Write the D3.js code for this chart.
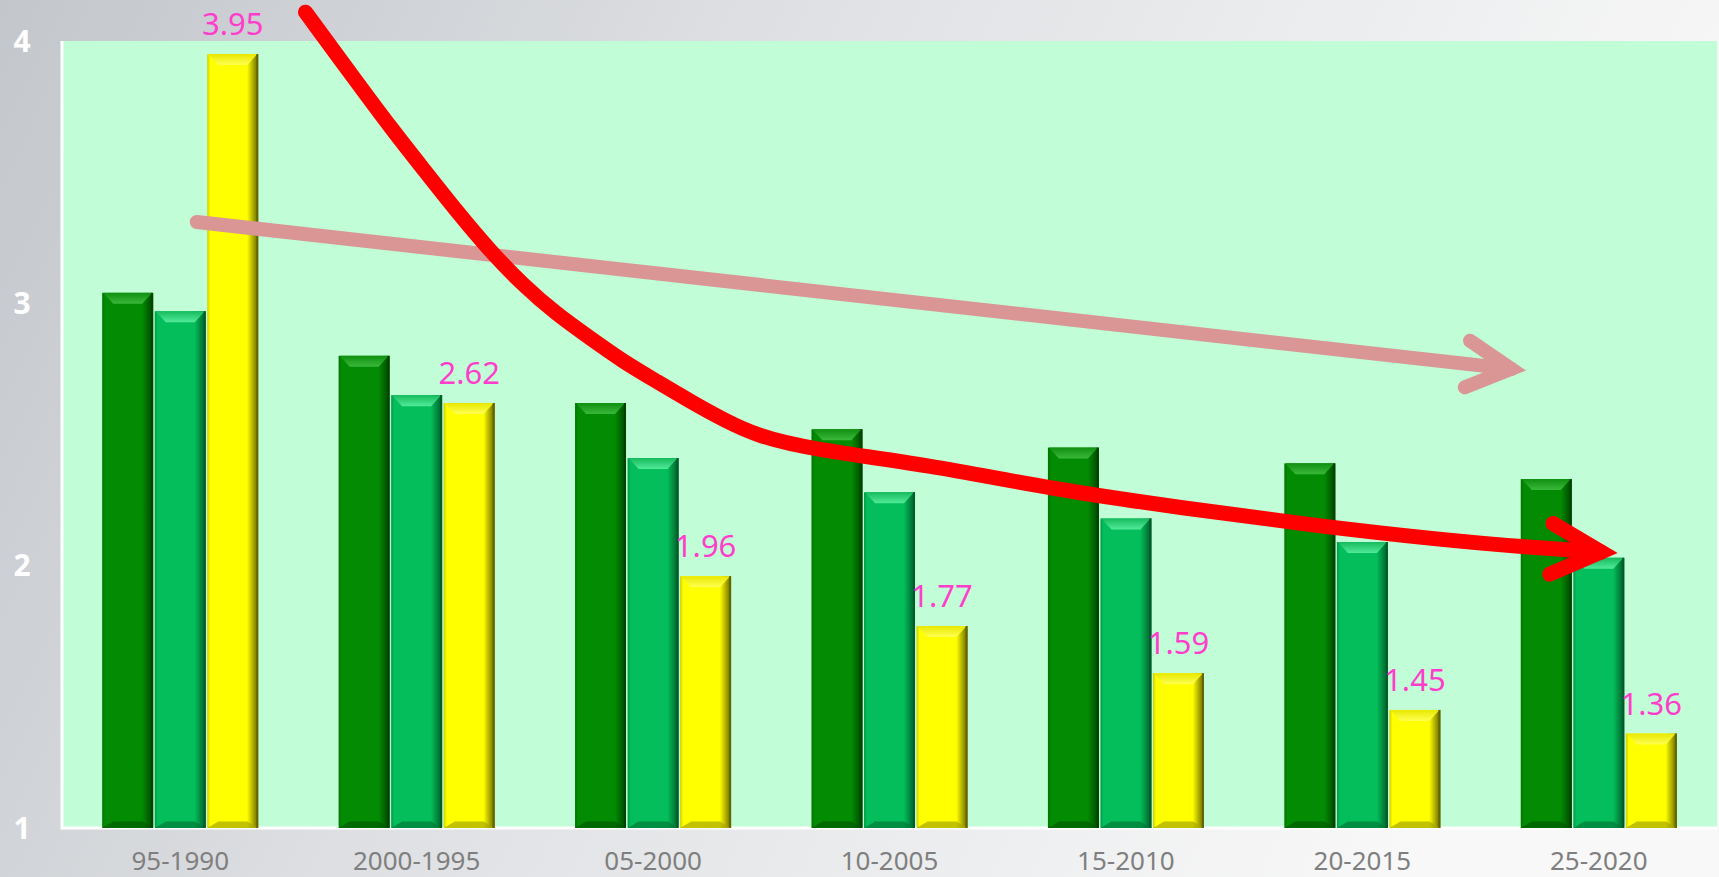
<!DOCTYPE html>
<html><head><meta charset="utf-8">
<script src="https://cdn.jsdelivr.net/npm/d3@7"></script>
<style>html,body{margin:0;padding:0;background:#fff;}svg{display:block;}</style>
</head><body>
<svg id="c" width="1719" height="877"></svg>
<script>
// ---- data ----
const categories = ["95-1990","2000-1995","05-2000","10-2005","15-2010","20-2015","25-2020"];
const seriesDark   = [3.04, 2.80, 2.62, 2.52, 2.45, 2.39, 2.33];
const seriesMid    = [2.97, 2.65, 2.41, 2.28, 2.18, 2.09, 2.03];
const seriesYellow = [3.95, 2.62, 1.96, 1.77, 1.59, 1.45, 1.36];
const yTicks = [1, 2, 3, 4];
// annotation arrows in (group index, value) space
const pinkArrow = [[0.07, 3.31], [5.63, 2.75]];
const redCurve = [[0.53,4.11],[0.75,3.84],[0.89,3.67],[1.03,3.51],[1.17,3.35],[1.31,3.20],[1.45,3.07],[1.59,2.96],[1.73,2.87],[1.87,2.78],[2.02,2.70],[2.16,2.625],[2.30,2.555],[2.44,2.495],[2.66,2.445],[3.16,2.385],[3.70,2.29],[4.24,2.22],[4.78,2.155],[5.32,2.10],[5.70,2.07],[6.01,2.052]];

const W = 1719, H = 877;
const plot = {left: 62, right: 1717, top: 41, bottom: 828};
const svg = d3.select("#c");
const defs = svg.append("defs");

// background gradient
const bg = defs.append("linearGradient").attr("id","bg").attr("x1","0").attr("y1","0").attr("x2","1").attr("y2","0.25");
bg.append("stop").attr("offset","0%").attr("stop-color","#c3c6cb");
bg.append("stop").attr("offset","45%").attr("stop-color","#dfe1e4");
bg.append("stop").attr("offset","100%").attr("stop-color","#f8f8f8");
svg.append("rect").attr("width",W).attr("height",H).attr("fill","url(#bg)");

// scales
const x0 = d3.scaleBand().domain(categories).range([plot.left, plot.right]).paddingInner(0.34).paddingOuter(0.17);
const x1 = d3.scaleBand().domain([0,1,2]).range([0, x0.bandwidth()]).paddingInner(0.03);
const y = d3.scaleLinear().domain([1,4]).range([plot.bottom, plot.top]);
const xi = d3.scaleLinear().domain([0,6]).range([x0(categories[0]) + x0.bandwidth()/2, x0(categories[6]) + x0.bandwidth()/2]);

// plot area
svg.append("rect").attr("x",plot.left).attr("y",plot.top).attr("width",plot.right-plot.left).attr("height",plot.bottom-plot.top).attr("fill","#c1fdd6");
svg.append("path").attr("d",`M${plot.left},${plot.top}V${plot.bottom}H${plot.right}`).attr("fill","none").attr("stroke","#ffffff").attr("stroke-width",3);

// bar styles
const styles = [
  {base:"#038c03", light:"#3bb83b", lightEdge:"#0f900f", dark:"#004400", bottom:"#005a00"},
  {base:"#03be5a", light:"#52ea99", lightEdge:"#16bb5e", dark:"#005c28", bottom:"#007a38"},
  {base:"#ffff00", light:"#ffff50", lightEdge:"#e8e800", dark:"#666600", bottom:"#a8a800"}
];
styles.forEach((s,i)=>{
  const g = defs.append("linearGradient").attr("id","bar"+i).attr("x1","0").attr("x2","1").attr("y1","0").attr("y2","0");
  g.append("stop").attr("offset","0%").attr("stop-color",d3.color(s.base).darker(0.6));
  g.append("stop").attr("offset","6%").attr("stop-color",s.base);
  g.append("stop").attr("offset","78%").attr("stop-color",s.base);
  g.append("stop").attr("offset","100%").attr("stop-color",s.dark);
  const t = defs.append("linearGradient").attr("id","top"+i).attr("x1","0").attr("x2","0").attr("y1","0").attr("y2","1");
  t.append("stop").attr("offset","0%").attr("stop-color",s.lightEdge);
  t.append("stop").attr("offset","100%").attr("stop-color",s.light);
});

const allSeries = [seriesDark, seriesMid, seriesYellow];
const barData = [];
categories.forEach((c,ci)=>{
  allSeries.forEach((ser,si)=>{ barData.push({cat:c, si, v:ser[ci]}); });
});

const b = 11;
const bars = svg.append("g").selectAll("g").data(barData).join("g");
bars.each(function(d){
  const g = d3.select(this);
  const bx = x0(d.cat) + x1(d.si), bw = x1.bandwidth();
  const top = y(d.v), bot = y(1);
  const s = styles[d.si];
  g.append("rect").attr("x",bx).attr("y",top).attr("width",bw).attr("height",bot-top).attr("fill",`url(#bar${d.si})`);
  g.append("path").attr("d",`M${bx+1},${top}L${bx+bw-1},${top}L${bx+bw-b},${top+b}L${bx+b},${top+b}Z`).attr("fill",`url(#top${d.si})`);
  g.append("path").attr("d",`M${bx},${bot}L${bx+bw},${bot}L${bx+bw-b},${bot-b*0.6}L${bx+b},${bot-b*0.6}Z`).attr("fill",s.bottom).attr("opacity",0.7);
  g.append("rect").attr("x",bx+bw-2).attr("y",top).attr("width",2).attr("height",bot-top).attr("fill",s.dark);
});

// value labels on yellow bars
svg.append("g").selectAll("text").data(seriesYellow).join("text")
  .attr("x",(d,i)=>x0(categories[i]) + x1(2) + x1.bandwidth()/2)
  .attr("y",d=>y(d) - 19)
  .attr("text-anchor","middle")
  .attr("font-family","'Noto Sans', sans-serif")
  .attr("font-size",31)
  .attr("fill","#ff3dcc")
  .text(d=>d.toFixed(2));

// y axis labels
svg.append("g").selectAll("text").data(yTicks).join("text")
  .attr("x",22).attr("y",d=>y(d)).attr("dy","0.36em")
  .attr("text-anchor","middle")
  .attr("font-family","'Noto Sans', sans-serif")
  .attr("font-weight","bold").attr("font-size",30).attr("fill","#ffffff")
  .text(d=>d);

// x axis labels
svg.append("g").selectAll("text").data(categories).join("text")
  .attr("x",d=>x0(d)+x0.bandwidth()/2).attr("y",861).attr("dy","0.36em")
  .attr("text-anchor","middle")
  .attr("font-family","'Noto Sans', sans-serif")
  .attr("font-size",26).attr("fill","#7f7f7f")
  .text(d=>d);

// arrows
function arrowHead(pts, len, ang){
  const n = pts.length;
  const [tx,ty] = pts[n-1], [px,py] = pts[n-2];
  const a = Math.atan2(ty-py, tx-px) + Math.PI;
  const r = ang*Math.PI/180;
  const p1 = [tx+len*Math.cos(a+r), ty+len*Math.sin(a+r)];
  const p2 = [tx+len*Math.cos(a-r), ty+len*Math.sin(a-r)];
  return `M${p1[0]},${p1[1]}L${tx},${ty}L${p2[0]},${p2[1]}`;
}
const pinkPts = pinkArrow.map(p=>[xi(p[0]), y(p[1])]);
svg.append("path").attr("d",d3.line()(pinkPts)).attr("fill","none").attr("stroke","#d99694").attr("stroke-width",14).attr("stroke-linecap","round");
svg.append("path").attr("d",arrowHead(pinkPts,50,28)).attr("fill","none").attr("stroke","#d99694").attr("stroke-width",14).attr("stroke-linecap","round").attr("stroke-linejoin","miter");

const redPts = redCurve.map(p=>[xi(p[0]), y(p[1])]);
svg.append("path").attr("d",d3.line().curve(d3.curveBasis)(redPts)).attr("fill","none").attr("stroke","#ff0000").attr("stroke-width",15).attr("stroke-linecap","round");
svg.append("path").attr("d",arrowHead(redPts,56,27)).attr("fill","none").attr("stroke","#ff0000").attr("stroke-width",15).attr("stroke-linecap","round").attr("stroke-linejoin","miter");
</script>
</body></html>
